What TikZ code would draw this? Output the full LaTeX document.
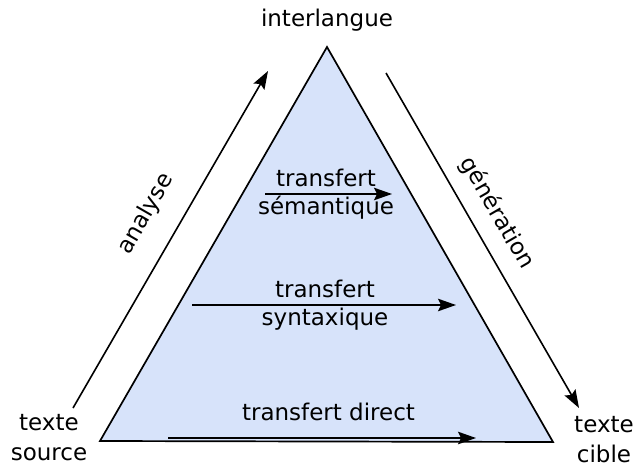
\documentclass[tikz,border=0pt]{standalone}
\usepackage{fontspec}
\setmainfont{DejaVu Sans}
\usetikzlibrary{arrows.meta}
\definecolor{trifill}{RGB}{215,227,250}
\tikzset{
  lbl/.style={inner sep=0pt, align=center, font=\fontsize{23}{28}\selectfont},
  olbl/.style={inner sep=0pt, align=center, font=\fontsize{23}{30}\selectfont},
  arr/.style={line width=1.6pt, -{Stealth[length=18pt,width=12.5pt,inset=3pt]}},
  tri/.style={draw=black, line width=1.7pt, fill=trifill, line join=miter}
}
\begin{document}
\begin{tikzpicture}[x=1pt,y=-1pt]
\useasboundingbox (0,0) rectangle (636,468);
\coordinate (apex) at (327,47);
\coordinate (bl) at (100,441);
\coordinate (br) at (553,442);
\draw[tri] (apex) -- (br) -- (bl) -- cycle;
\node[lbl, anchor=base] (inter) at (327,27) {interlangue};
\node[olbl] (src) at (49,438) {texte\\source};
\node[olbl] (cib) at (604,439.5) {texte\\cible};
\coordinate (a1) at (73,408);
\coordinate (a2) at (268,71);
\draw[arr] (a1) -- (a2);
\coordinate (g1) at (386,73);
\coordinate (g2) at (579,408);
\draw[arr] (g1) -- (g2);
\node[lbl, rotate=60] (ana) at (146,214) {analyse};
\node[lbl, rotate=-60] (gen) at (497,213) {génération};
\node[lbl] (sem) at (326,194.5) {transfert\\sémantique};
\coordinate (s1) at (265,194);
\coordinate (s2) at (392,194);
\draw[arr] (s1) -- (s2);
\node[lbl] (syn) at (325,305) {transfert\\syntaxique};
\coordinate (y1) at (192,305);
\coordinate (y2) at (456,305);
\draw[arr] (y1) -- (y2);
\node[lbl, anchor=base] (dir) at (328.5,420) {transfert direct};
\coordinate (d1) at (168,438);
\coordinate (d2) at (476,438);
\draw[arr] (d1) -- (d2);
\end{tikzpicture}
\end{document}
